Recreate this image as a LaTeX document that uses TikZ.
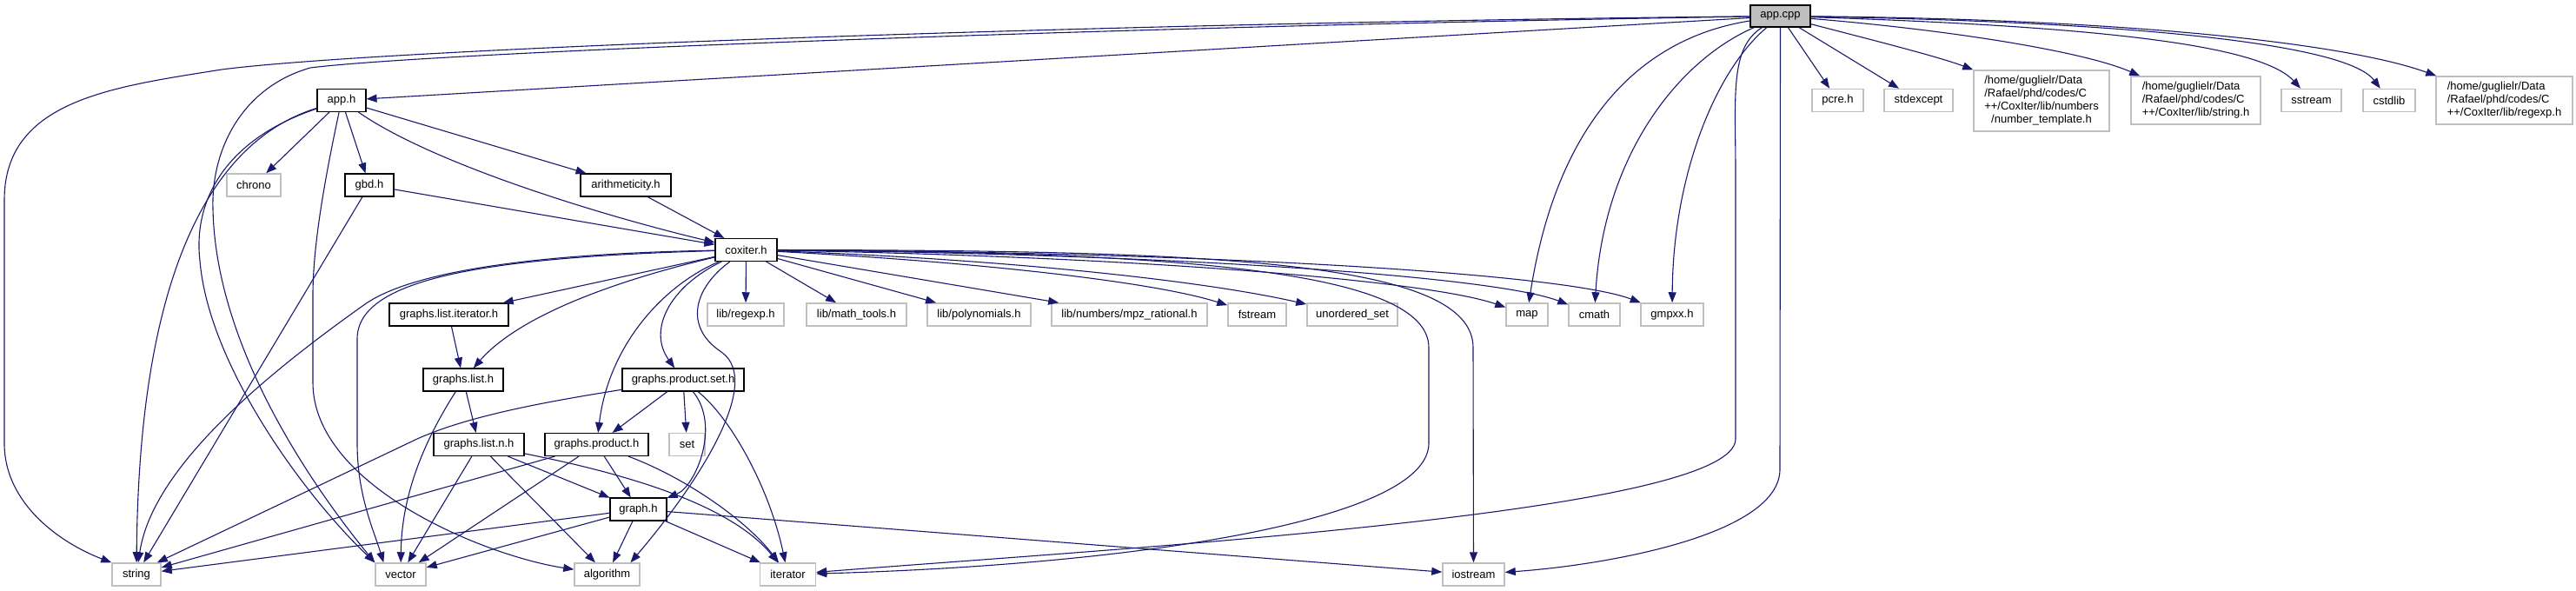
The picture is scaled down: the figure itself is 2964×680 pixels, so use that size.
\documentclass[tikz,border=0pt]{standalone}
\usepackage{fontspec}
\setmainfont{Liberation Sans}
\usetikzlibrary{arrows.meta}
\definecolor{edgec}{HTML}{191970}
\definecolor{greyb}{HTML}{BFBFBF}
\begin{document}
\begin{tikzpicture}[x=1pt,y=-1pt,
  every node/.style={font=\fontsize{13}{15}\selectfont, inner sep=0pt, rectangle, minimum height=26pt},
  doc/.style={draw=black, line width=1.1pt, fill=white},
  ext/.style={draw=greyb, line width=1.5pt, fill=white},
  dep/.style={draw=edgec, line width=1.1pt, -{Triangle[length=12pt,width=9pt]}},
]
\useasboundingbox[fill=white] (0,0) rectangle (2964,680);
% nodes
\node[doc, fill=greyb, minimum width=69pt, minimum height=25pt] (appcpp) at (2048.5,18.5) {app.cpp};
\node[doc, minimum width=56pt] (apph) at (393,115.5) {app.h};
\node[ext, minimum width=62pt] (nchrono) at (292,213) {chrono};
\node[doc, minimum width=56pt] (gbdh) at (425,213) {gbd.h};
\node[doc, minimum width=104pt] (arith) at (720,213) {arithmeticity.h};
\node[doc, minimum width=71pt] (coxiter) at (858.5,287.5) {coxiter.h};
\node[doc, minimum width=137pt] (glit) at (516.5,362) {graphs.list.iterator.h};
\node[ext, minimum width=88pt] (lregexp) at (858,362) {lib/regexp.h};
\node[ext, minimum width=115pt] (lmath) at (985.5,362) {lib/math\_tools.h};
\node[ext, minimum width=119pt] (lpoly) at (1126.5,362) {lib/polynomials.h};
\node[ext, minimum width=179pt] (lmpz) at (1299.5,362) {lib/numbers/mpz\_rational.h};
\node[ext, minimum width=67pt] (nfstream) at (1446.5,362) {fstream};
\node[ext, minimum width=104pt] (nuset) at (1556,362) {unordered\_set};
\node[ext, minimum width=48pt] (nmap) at (1757,362) {map};
\node[ext, minimum width=59pt] (ncmath) at (1834.5,362) {cmath};
\node[ext, minimum width=72pt] (ngmpxx) at (1924,362) {gmpxx.h};
\node[doc, minimum width=92pt] (glist) at (533,437) {graphs.list.h};
\node[doc, minimum width=140pt] (gpset) at (786,437) {graphs.product.set.h};
\node[doc, minimum width=104pt] (glistn) at (551,511.5) {graphs.list.n.h};
\node[doc, minimum width=119pt] (gprod) at (686.5,511.5) {graphs.product.h};
\node[ext, minimum width=41pt] (nset) at (790.5,511.5) {set};
\node[doc, minimum width=65pt] (ngraph) at (734.5,586) {graph.h};
\node[ext, minimum width=56pt] (nstring) at (157,661) {string};
\node[ext, minimum width=58pt] (nvector) at (461,661) {vector};
\node[ext, minimum width=75pt] (nalgorithm) at (698.5,661) {algorithm};
\node[ext, minimum width=64pt] (niterator) at (906.5,661) {iterator};
\node[ext, minimum width=71pt] (niostream) at (1695.5,661) {iostream};
\node[ext, minimum width=59pt] (npcre) at (2114.5,115.5) {pcre.h};
\node[ext, minimum width=79pt] (nstdexcept) at (2207.5,115.5) {stdexcept};
\node[ext, minimum width=156pt, minimum height=70pt] (numtpl) at (2349,116)
  {\begin{tabular}{@{}l@{}}/home/guglielr/Data\\/Rafael/phd/codes/C\\++/CoxIter/lib/numbers\\\multicolumn{1}{@{}c@{}}{/number\_template.h}\end{tabular}};
\node[ext, minimum width=149pt, minimum height=55pt] (strh) at (2526.5,115.5)
  {\begin{tabular}{@{}l@{}}/home/guglielr/Data\\/Rafael/phd/codes/C\\++/CoxIter/lib/string.h\end{tabular}};
\node[ext, minimum width=69pt] (nsstream) at (2659.5,115.5) {sstream};
\node[ext, minimum width=60pt] (ncstdlib) at (2749,115.5) {cstdlib};
\node[ext, minimum width=157pt, minimum height=55pt] (regexph) at (2881.5,115.5)
  {\begin{tabular}{@{}l@{}}/home/guglielr/Data\\/Rafael/phd/codes/C\\++/CoxIter/lib/regexp.h\end{tabular}};

% app.cpp edges
\draw[dep] (appcpp) -- (apph);
\draw[dep] (appcpp) .. controls (1300,26) and (450,55) .. (255,80) .. controls (130,100) and (5,115) .. (5,230) -- (5,510) .. controls (5,580) and (70,625) .. (nstring.north west);
\draw[dep] (appcpp) .. controls (1300,30) and (500,60) .. (357,78) .. controls (280,100) and (243,170) .. (245,240) .. controls (248,400) and (360,560) .. (nvector.north west);
\draw[dep] (appcpp) .. controls (1880,45) and (1790,150) .. (nmap);
\draw[dep] (appcpp) .. controls (1930,70) and (1845,180) .. (ncmath);
\draw[dep] (appcpp) .. controls (1975,80) and (1925,200) .. (ngmpxx);
\draw[dep] (appcpp) .. controls (1990,55) and (1997,110) .. (1997,200) -- (1997,505) .. controls (1997,590) and (1300,630) .. (niterator);
\draw[dep] (appcpp) -- (2048,540) .. controls (2048,615) and (1850,650) .. (niostream);
\draw[dep] (appcpp) -- (npcre);
\draw[dep] (appcpp) -- (nstdexcept);
\draw[dep] (appcpp) .. controls (2150,45) and (2230,65) .. (numtpl.north west);
\draw[dep] (appcpp) .. controls (2250,35) and (2400,60) .. (strh);
\draw[dep] (appcpp) .. controls (2400,30) and (2600,50) .. (nsstream);
\draw[dep] (appcpp) .. controls (2450,25) and (2700,50) .. (ncstdlib);
\draw[dep] (appcpp) .. controls (2450,22) and (2700,50) .. (regexph);

% app.h edges
\draw[dep] (apph) -- (nchrono);
\draw[dep] (apph) -- (gbdh);
\draw[dep] (apph) -- (arith);
\draw[dep] (apph) .. controls (500,190) and (700,250) .. (coxiter);
\draw[dep] (apph) .. controls (250,160) and (160,300) .. (nstring);
\draw[dep] (apph) .. controls (260,160) and (222,230) .. (230,300) .. controls (240,420) and (350,570) .. (nvector.north west);
\draw[dep] (apph) .. controls (375,200) and (360,280) .. (360,340) -- (360,440) .. controls (360,560) and (560,640) .. (nalgorithm);

% gbd.h, arithmeticity.h
\draw[dep] (gbdh) -- (coxiter);
\draw[dep] (gbdh) -- (nstring);
\draw[dep] (arith) -- (coxiter);

% coxiter.h edges
\draw[dep] (coxiter) .. controls (600,292) and (470,315) .. (420,350) .. controls (300,435) and (175,540) .. (nstring);
\draw[dep] (coxiter) .. controls (560,296) and (411,320) .. (411,390) -- (411,510) .. controls (411,570) and (430,610) .. (nvector.145);
\draw[dep] (coxiter) -- (glit);
\draw[dep] (coxiter) .. controls (720,320) and (600,360) .. (glist);
\draw[dep] (coxiter) .. controls (770,330) and (745,380) .. (gpset);
\draw[dep] (coxiter) .. controls (760,330) and (700,400) .. (gprod);
\draw[dep] (coxiter) .. controls (800,330) and (785,375) .. (830,405) .. controls (880,440) and (800,560) .. (nalgorithm.27);
\draw[dep] (coxiter) -- (lregexp);
\draw[dep] (coxiter) -- (lmath);
\draw[dep] (coxiter) -- (lpoly);
\draw[dep] (coxiter) -- (lmpz);
\draw[dep] (coxiter) .. controls (1100,300) and (1320,322) .. (nfstream);
\draw[dep] (coxiter) .. controls (1150,298) and (1380,322) .. (nuset);
\draw[dep] (coxiter) .. controls (1300,295) and (1640,322) .. (nmap);
\draw[dep] (coxiter) .. controls (1350,292) and (1720,318) .. (ncmath);
\draw[dep] (coxiter) .. controls (1400,290) and (1800,315) .. (ngmpxx);
\draw[dep] (coxiter) .. controls (1350,290) and (1644,310) .. (1644,400) -- (1644,510) .. controls (1644,600) and (1300,650) .. (niterator);
\draw[dep] (coxiter) .. controls (1400,288) and (1695,300) .. (1695,400) -- (niostream);

% graphs.list.iterator.h, graphs.list.h
\draw[dep] (glit) -- (glist);
\draw[dep] (glist) .. controls (480,520) and (462,580) .. (nvector);
\draw[dep] (glist) -- (glistn);

% graphs.product.set.h
\draw[dep] (gpset) .. controls (630,462) and (540,478) .. (480,505) -- (nstring.30);
\draw[dep] (gpset) -- (gprod);
\draw[dep] (gpset) -- (nset);
\draw[dep] (gpset) .. controls (830,490) and (800,560) .. (ngraph);
\draw[dep] (gpset) .. controls (840,480) and (885,560) .. (niterator);

% graphs.list.n.h
\draw[dep] (glistn) -- (ngraph);
\draw[dep] (glistn) -- (nvector);
\draw[dep] (glistn) -- (nalgorithm);
\draw[dep] (glistn) .. controls (720,545) and (840,580) .. (niterator);

% graphs.product.h
\draw[dep] (gprod) -- (nstring);
\draw[dep] (gprod) -- (nvector);
\draw[dep] (gprod) -- (ngraph);
\draw[dep] (gprod) .. controls (790,550) and (860,600) .. (niterator);

% graph.h
\draw[dep] (ngraph) -- (nstring);
\draw[dep] (ngraph) -- (nvector);
\draw[dep] (ngraph) -- (nalgorithm);
\draw[dep] (ngraph) -- (niterator);
\draw[dep] (ngraph) -- (niostream);
\end{tikzpicture}
\end{document}
